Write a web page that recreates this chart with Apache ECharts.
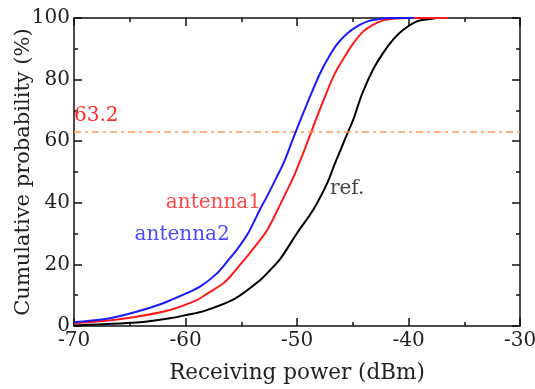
<!DOCTYPE html>
<html>
<head>
<meta charset="utf-8">
<script src="https://cdn.jsdelivr.net/npm/echarts@6/dist/echarts.min.js"></script>
<style>html,body{margin:0;padding:0;background:#fff}#c{width:535px;height:389px}</style>
</head>
<body>
<div id="c"></div>
<script>
// Tick values
const xTicks = [-70, -60, -50, -40, -30];
const yTicks = [0, 20, 40, 60, 80, 100];
// Reference level
const refLevel = 63.2;
// CDF curves: [receiving power (dBm), cumulative probability (%)]
const antenna2 = [[-70,1.2],[-68.6,1.7],[-66.8,2.5],[-64.4,4.6],[-62.0,7.4],[-60.3,10.0],[-58.7,12.8],[-57.2,17.0],[-56.0,22.1],[-55.4,24.7],[-54.4,30.0],[-53.3,38.0],[-52.7,42.0],[-51.8,48.5],[-51.1,53.8],[-50.1,63.2],[-49.0,73.0],[-48.0,81.5],[-47.2,87.0],[-46.4,91.5],[-45.5,95.0],[-44.5,97.5],[-43.6,99.0],[-42.6,99.7],[-41.5,100],[-39.5,100]];
const antenna1 = [[-70,0.8],[-69.2,1.1],[-67.1,1.7],[-64.4,3.0],[-61.4,5.2],[-59.0,8.4],[-58.1,10.4],[-56.6,13.9],[-56.0,16.0],[-54.7,21.6],[-54.2,23.8],[-52.7,31.0],[-51.5,39.5],[-50.3,48.5],[-49.9,52.0],[-49.4,56.5],[-48.7,63.2],[-47.6,73.5],[-46.6,82.0],[-45.8,87.0],[-45.0,91.5],[-44.1,95.5],[-43.2,97.8],[-42.2,99.3],[-41.2,99.8],[-40.0,100],[-36.5,100]];
const refCurve = [[-70,0.2],[-67.4,0.6],[-64.4,1.1],[-61.4,2.5],[-59.9,3.6],[-58.3,4.9],[-55.6,8.8],[-53.3,14.9],[-52.4,18.2],[-51.5,21.8],[-50.0,30.1],[-48.5,38.0],[-47.3,46.3],[-46.6,52.8],[-46.1,57.1],[-45.4,63.2],[-44.9,67.5],[-44.2,75.0],[-43.2,83.1],[-42.3,88.5],[-41.4,92.9],[-40.5,96.1],[-39.3,98.8],[-38.3,99.6],[-37.4,100]];
// Curve labels: [x, y, text]
const curveLabels = [[-57.5,39.9,'antenna1'],[-60.3,29.5,'antenna2'],[-45.5,44.5,'ref.']];
const labelColors = ['#ff1a1a','#1a1aff','#111'];

const FONT = "DejaVu Serif, serif";
const chart = echarts.init(document.getElementById('c'), null, {renderer:'canvas'});

function axisCommon(){
  return {
    axisLine:{show:true, onZero:false, lineStyle:{color:'#111', width:1.5}},
    axisTick:{show:true, inside:true, length:8, lineStyle:{color:'#111', width:1.5}},
    minorTick:{show:true, splitNumber:2, length:4, lineStyle:{color:'#111', width:1.5}},
    splitLine:{show:false},
    minorSplitLine:{show:false}
  };
}

const option = {
  animation:false,
  backgroundColor:'#fff',
  textStyle:{fontFamily:FONT},
  grid:{left:74, right:15, top:18, bottom:63, containLabel:false, outerBoundsMode:'none'},
  xAxis:[
    Object.assign(axisCommon(), {
      type:'value', min:xTicks[0], max:xTicks[xTicks.length-1], interval:10, position:'bottom',
      axisLabel:{fontFamily:FONT, fontSize:20, color:'#222', margin:5},
      name:'Receiving power (dBm)', nameLocation:'middle', nameGap:36,
      nameTextStyle:{fontFamily:FONT, fontSize:21.5, color:'#222'}
    }),
    Object.assign(axisCommon(), {
      type:'value', min:xTicks[0], max:xTicks[xTicks.length-1], interval:10, position:'top',
      axisLabel:{show:false}
    })
  ],
  yAxis:[
    Object.assign(axisCommon(), {
      type:'value', min:yTicks[0], max:yTicks[yTicks.length-1], interval:20, position:'left',
      axisLabel:{fontFamily:FONT, fontSize:20, color:'#222', margin:4},
      name:'Cumulative probability (%)', nameLocation:'middle', nameGap:40, nameMoveOverlap:false,
      nameTextStyle:{fontFamily:FONT, fontSize:21, color:'#222'}
    }),
    Object.assign(axisCommon(), {
      type:'value', min:yTicks[0], max:yTicks[yTicks.length-1], interval:20, position:'right',
      axisLabel:{show:false}
    })
  ],
  series:[
    {
      type:'line', data:refCurve, showSymbol:false, smooth:0.3,
      lineStyle:{color:'#000', width:2}, z:3,
      markLine:{
        silent:true, symbol:['none','none'],
        lineStyle:{color:'#ff9a55', type:[7,4,3,4], width:1.5},
        label:{show:true, position:'insideStartTop', formatter:String(refLevel), fontFamily:FONT, fontSize:20, color:'#ff2a2a', distance:[0,6]},
        data:[{yAxis:refLevel}]
      }
    },
    {type:'line', data:antenna1, showSymbol:false, smooth:0.3, lineStyle:{color:'#ff1a1a', width:2}, z:4},
    {type:'line', data:antenna2, showSymbol:false, smooth:0.3, lineStyle:{color:'#1a1aff', width:2}, z:5},
    {
      type:'scatter', symbolSize:0, z:6, silent:true,
      data:curveLabels.map((d,i)=>({value:[d[0],d[1]], label:{show:true, position:'inside', formatter:d[2], color:labelColors[i], fontFamily:FONT, fontSize:20}}))
    }
  ]
};
chart.setOption(option);
</script>
</body>
</html>
